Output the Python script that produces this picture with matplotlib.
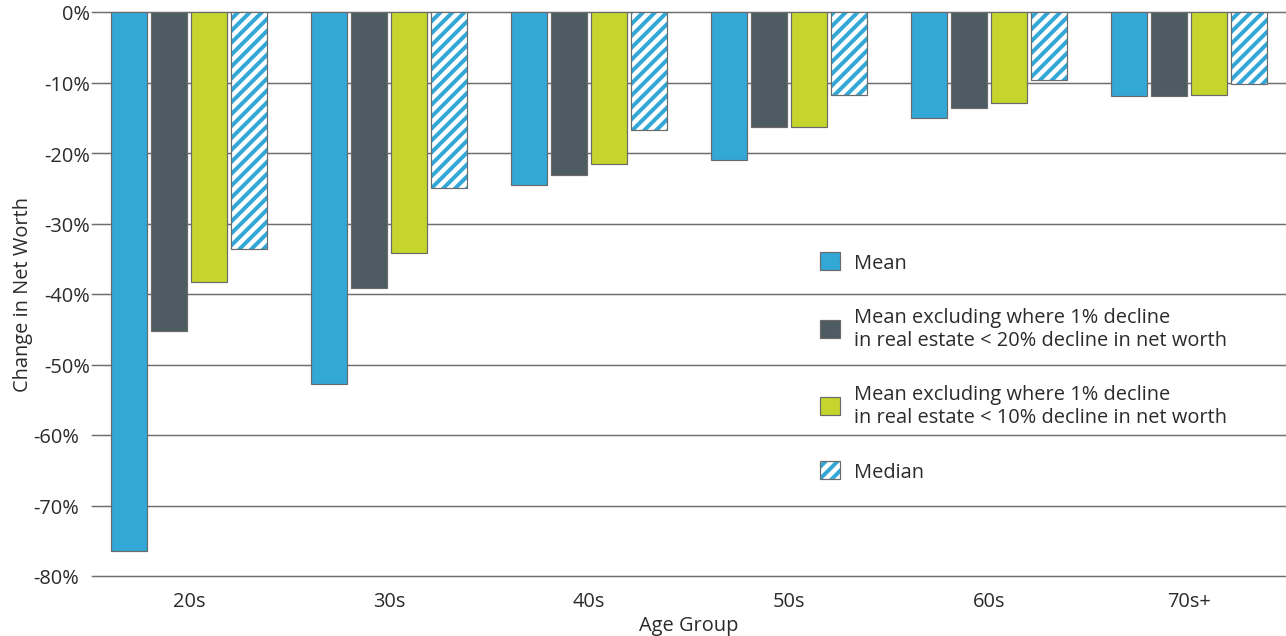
import matplotlib
matplotlib.use("Agg")
import matplotlib.pyplot as plt
from matplotlib.patches import Patch
from matplotlib.legend_handler import HandlerTuple
from matplotlib.transforms import ScaledTranslation
import numpy as np

# Data: change in net worth (%) by age group
age_groups = ["20s", "30s", "40s", "50s", "60s", "70s+"]
mean_vals = [-76.4, -52.8, -24.6, -21.0, -15.1, -11.9]
mean_excl_20 = [-45.2, -39.1, -23.1, -16.3, -13.6, -11.9]
mean_excl_10 = [-38.3, -34.2, -21.6, -16.3, -12.9, -11.8]
median_vals = [-33.6, -25.0, -16.7, -11.8, -9.6, -10.2]
y_ticks = [0, -10, -20, -30, -40, -50, -60, -70, -80]

labels = [
    "Mean",
    "Mean excluding where 1% decline\nin real estate < 20% decline in net worth",
    "Mean excluding where 1% decline\nin real estate < 10% decline in net worth",
    "Median",
]

BLUE = "#33a8d6"
SLATE = "#4f5b63"
LIME = "#c5d52d"
EDGE = "#6a6a6a"
TEXT = "#2b2b2b"

DPI = 143
plt.rcParams["font.family"] = ["Open Sans", "DejaVu Sans"]
plt.rcParams["hatch.linewidth"] = 2.0
FS = 10.1

fig = plt.figure(figsize=(1286 / DPI, 637 / DPI), dpi=DPI)
ax = fig.add_axes([92 / 1286, 60 / 637, 1194 / 1286, 564 / 637])

x = np.arange(len(age_groups))
step = 0.2
width = 0.18
lw = 0.6

ax.bar(x - 1.5 * step, mean_vals, width, color=BLUE, edgecolor=EDGE, linewidth=lw, zorder=3)
ax.bar(x - 0.5 * step, mean_excl_20, width, color=SLATE, edgecolor=EDGE, linewidth=lw, zorder=3)
ax.bar(x + 0.5 * step, mean_excl_10, width, color=LIME, edgecolor=EDGE, linewidth=lw, zorder=3)
# striped median bars: hatch layer, then outline
ax.bar(x + 1.5 * step, median_vals, width, color="white", edgecolor=BLUE, hatch="////", linewidth=0, zorder=3)
ax.bar(x + 1.5 * step, median_vals, width, fill=False, edgecolor=EDGE, linewidth=lw, zorder=4)

ax.set_xlim(-0.485, 5.485)
ax.set_ylim(-80, 0)
ax.set_yticks(y_ticks)
ax.set_yticklabels([f"{t}%" for t in y_ticks])
ax.set_xticks(x)
ax.set_xticklabels(age_groups)
ax.tick_params(axis="both", length=0, labelsize=FS, colors=TEXT)
ax.tick_params(axis="y", pad=1)
ax.tick_params(axis="x", pad=7.5)
# lower tick labels sit a little further from the axis
for t, lbl in zip(y_ticks, ax.get_yticklabels()):
    if t <= -60:
        lbl.set_transform(lbl.get_transform() + ScaledTranslation(-11 / DPI, 0, fig.dpi_scale_trans))
for s in ax.spines.values():
    s.set_visible(False)
ax.yaxis.grid(True, color="#6e6e6e", linewidth=0.75, zorder=0)
for gl in ax.get_ygridlines():
    gl.set_clip_on(False)
ax.set_axisbelow(True)

ax.set_xlabel("Age Group", fontsize=FS, color=TEXT, labelpad=2)
ax.set_ylabel("Change in Net Worth", fontsize=FS, color=TEXT, labelpad=0)

h_mean = Patch(facecolor=BLUE, edgecolor=EDGE, linewidth=lw)
h_s = Patch(facecolor=SLATE, edgecolor=EDGE, linewidth=lw)
h_l = Patch(facecolor=LIME, edgecolor=EDGE, linewidth=lw)
h_m1 = Patch(facecolor="white", edgecolor=BLUE, hatch="////", linewidth=0)
h_m2 = Patch(fill=False, edgecolor=EDGE, linewidth=lw)

fs_px = FS * DPI / 72
leg = ax.legend(
    [h_mean, h_s, h_l, (h_m1, h_m2)], labels,
    handler_map={tuple: HandlerTuple(ndivide=1, pad=0)},
    loc="upper left", bbox_to_anchor=(820 / 1286, (637 - 253) / 637),
    bbox_transform=fig.transFigure,
    frameon=False, fontsize=FS, labelcolor=TEXT,
    handlelength=20 / fs_px, handleheight=20 / fs_px,
    handletextpad=14 / fs_px, labelspacing=1.7, borderpad=0, borderaxespad=0,
)

fig.savefig("out.png", dpi=DPI)
